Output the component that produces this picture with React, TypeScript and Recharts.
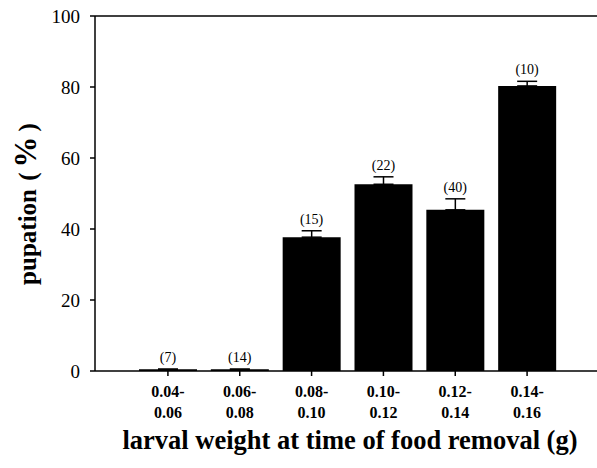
import { Bar, ComposedChart, ErrorBar, LabelList, Line, ReferenceLine, XAxis, YAxis } from "recharts"

const lowBounds = ["0.04", "0.06", "0.08", "0.10", "0.12", "0.14"]
const highBounds = ["0.06", "0.08", "0.10", "0.12", "0.14", "0.16"]
const pupation = [0.5, 0.5, 37.7, 52.6, 45.4, 80.3]
const errors = [0, 0, 1.8, 2.1, 3.1, 1.3]
const sampleSizes = [7, 14, 15, 22, 40, 10]
const yTicks = [0, 20, 40, 60, 80, 100]

const serif = '"Liberation Serif", "Times New Roman", serif'

const data = lowBounds.map((lo, i) => ({
    name: `${lo}-${highBounds[i]}`,
    value: pupation[i],
    err: [0, errors[i]],
    capTop: pupation[i] + errors[i],
    n: `(${sampleSizes[i]})`,
}))

const WeightTick = (props: any) => {
    const { x, index } = props
    return (
        <g>
            <text x={x} y={371} dy={26} textAnchor="middle" fontFamily={serif} fontWeight="bold" fontSize={16} fill="#000">
                {lowBounds[index]}-
            </text>
            <text x={x} y={371} dy={47} textAnchor="middle" fontFamily={serif} fontWeight="bold" fontSize={16} fill="#000">
                {highBounds[index]}
            </text>
        </g>
    )
}

const PercentTick = (props: any) => {
    const { y, payload } = props
    return (
        <text x={80} y={y} dy={7} textAnchor="end" fontFamily={serif} fontSize={19} fill="#000">
            {payload.value}
        </text>
    )
}

export default function App() {
    return (
        <div style={{ position: "absolute", left: 0, top: 0, background: "#fff" }}>
            <ComposedChart
                width={597}
                height={468}
                data={data}
                margin={{ top: 16, right: 0, left: 15, bottom: 0 }}
                barSize={58}
            >
                <XAxis
                    dataKey="name"
                    height={97}
                    padding={{ left: 37, right: 34 }}
                    stroke="#000"
                    strokeWidth={1.5}
                    tickSize={5}
                    tick={<WeightTick />}
                    interval={0}
                    label={{
                        content: () => (
                            <text x={350} y={449} textAnchor="middle" fontFamily={serif} fontWeight="bold" fontSize={26.5} fill="#000">
                                larval weight at time of food removal (g)
                            </text>
                        ),
                    }}
                />
                <YAxis
                    type="number"
                    domain={[0, 100]}
                    ticks={yTicks}
                    width={80}
                    stroke="#000"
                    strokeWidth={1.5}
                    tickSize={5}
                    tick={<PercentTick />}
                    label={{
                        content: () => (
                            <text
                                x={36}
                                y={204}
                                transform="rotate(-90 36 204)"
                                textAnchor="middle"
                                fontFamily={serif}
                                fontWeight="bold"
                                fontSize={25}
                                fill="#000"
                            >
                                pupation <tspan dx={2}>(</tspan>
                                <tspan dx={5} fontSize={31}>%</tspan>
                                <tspan dx={5}>)</tspan>
                            </text>
                        ),
                    }}
                />
                <ReferenceLine y={100} stroke="#000" strokeWidth={1.5} />
                <Bar dataKey="value" fill="#000" isAnimationActive={false}>
                    <ErrorBar dataKey="err" width={10} stroke="#000" strokeWidth={1.5} direction="y" />
                </Bar>
                <Line
                    dataKey="capTop"
                    stroke="none"
                    dot={false}
                    activeDot={false}
                    legendType="none"
                    isAnimationActive={false}
                >
                    <LabelList dataKey="n" position="top" offset={7} fontSize={14} fontFamily={serif} fill="#000" />
                </Line>
            </ComposedChart>
        </div>
    )
}
